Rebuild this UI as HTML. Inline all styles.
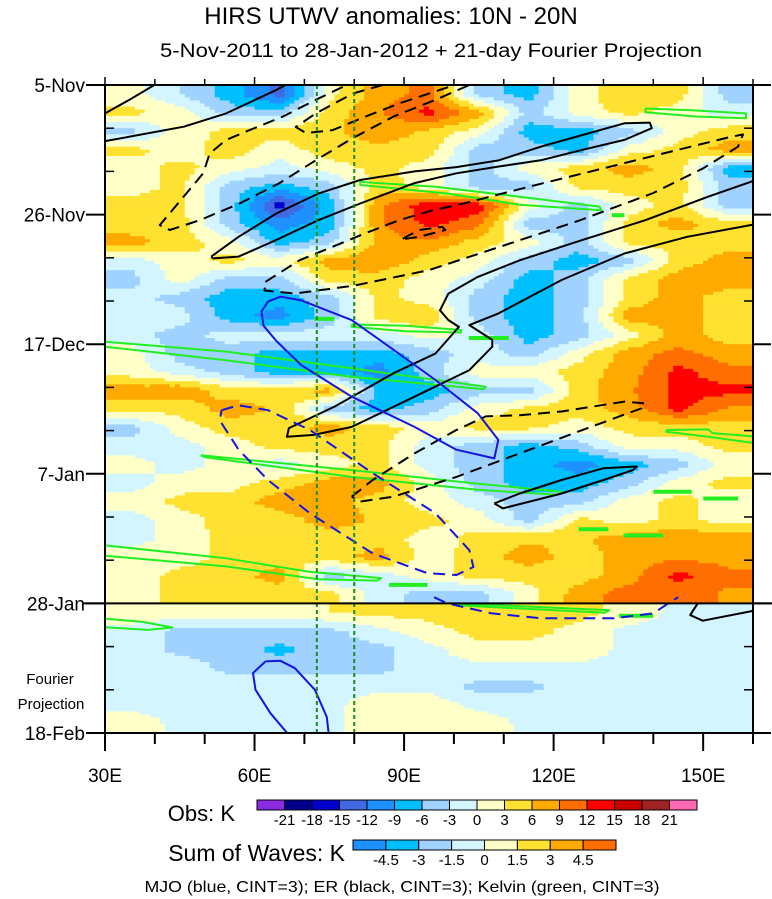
<!DOCTYPE html>
<html>
<head>
<meta charset="utf-8">
<style>
  html, body { margin: 0; padding: 0; background: #fff; }
  svg { display: block; font-family: "Liberation Sans", "DejaVu Sans", sans-serif; }
</style>
</head>
<body>
<svg id="chart" width="772" height="899" viewBox="0 0 772 899" xmlns="http://www.w3.org/2000/svg">
  <defs>
    <clipPath id="plotClip"><rect x="105" y="85" width="648" height="648"/></clipPath>
  </defs>
  <text x="391" y="24" font-size="24" text-anchor="middle">HIRS UTWV anomalies: 10N - 20N</text>
  <text x="431" y="57" font-size="19" text-anchor="middle" textLength="542" lengthAdjust="spacingAndGlyphs">5-Nov-2011 to 28-Jan-2012 + 21-day Fourier Projection</text>
  <g id="heat" clip-path="url(#plotClip)"></g>
  <g id="lines" clip-path="url(#plotClip)"></g>
  <g id="axes"></g>
  <g id="legend"></g>
  <text x="402" y="892" font-size="16" text-anchor="middle" textLength="515" lengthAdjust="spacingAndGlyphs">MJO (blue, CINT=3); ER (black, CINT=3); Kelvin (green, CINT=3)</text>
</svg>
<script>
// ---- data: observed anomalies (K), columns at 35E..155E (10-degree bins), rows every 3 days from 5-Nov ----
const colLons = [35,45,55,65,75,85,95,105,115,125,135,145,155];
const obsRows = [
[1.5,-3,-7.5,-13.5,2,7.5,10,-4.5,-7.5,1.5,5.5,4.5,-4.5],
[4,1.5,-4.5,-4.5,4.5,8.5,13,7.5,-4.5,1.5,4,1.5,-1.5],
[-4.5,1.5,4,4,5.5,7.5,5.5,1.5,-7.5,-7.5,-4.5,1.5,4.5],
[4,1.5,4.5,1.5,4.5,5.5,4.5,-4.5,-4.5,-7.5,1.5,4,7.5],
[1.5,4,1.5,-1.5,1.5,4,1.5,-4.5,1.5,4.5,7.5,4.5,-7.5],
[1.5,4,-4.5,-7.5,-4.5,4.5,1.5,-4.5,-4.5,4,4.5,4.5,-4.5],
[4.5,4,-4.5,-16.5,-7.5,8.5,14,14,1.5,-4.5,1.5,4,-4.5],
[4,4.5,-4.5,-10.5,-7.5,8.5,13,10,-4.5,-4.5,4,7.5,4],
[7.5,4.5,1.5,-7.5,-4.5,7.5,8.5,4.5,1.5,-4.5,4,4,4.5],
[-1.5,1.5,4,1.5,7.5,8.5,4.5,1.5,-4.5,-7.5,-4.5,4.5,7.5],
[-4.5,1.5,-4.5,-4.5,4.5,4.5,1.5,-1.5,-7.5,-4.5,4,7.5,7.5],
[-1.5,-4.5,-7.5,-7.5,-4.5,4,1.5,-4.5,-7.5,-4.5,4,7.5,4.5],
[-1.5,-1.5,-7.5,-10.5,-4.5,4,5.5,-4.5,-7.5,-4.5,7.5,7.5,4.5],
[-1.5,-4.5,-1.5,-1.5,-1.5,-1.5,1.5,-1.5,-7.5,-4.5,1.5,7.5,4.5],
[1.5,-4.5,-4.5,-7.5,-7.5,-7.5,-4.5,-1.5,-4.5,1.5,7.5,10,7.5],
[1.5,-1.5,-4.5,-7.5,-7.5,-10.5,-4.5,1.5,1.5,4.5,7.5,13,10],
[7.5,8.5,4.5,4.5,7.5,-7.5,-7.5,-4.5,-4.5,4.5,8.5,13,13],
[4.5,4,7.5,5.5,-4.5,-7.5,-4.5,1.5,4,4.5,7.5,13,8.5],
[-4.5,1.5,4.5,4.5,7.5,4.5,1.5,4,4,1.5,4,4.5,4.5],
[-1.5,-1.5,1.5,4,4.5,4,-1.5,-4.5,-7.5,-4.5,1.5,1.5,4],
[1.5,-1.5,1.5,-1.5,1.5,4,-1.5,-4.5,-7.5,-10.5,-7.5,-4.5,1.5],
[-1.5,1.5,1.5,4.5,7.5,7.5,1.5,-4.5,-7.5,-7.5,-4.5,1.5,4],
[1.5,4,4.5,7.5,7.5,4.5,1.5,-1.5,-4.5,-4.5,1.5,4,1.5],
[-1.5,1.5,4.5,4.5,7.5,5.5,4,1.5,-4.5,4,1.5,4,1.5],
[-1.5,1.5,4,4.5,4.5,4.5,1.5,4,5.5,5.5,7.5,8.5,7.5],
[1.5,1.5,4,4.5,4.5,7.5,1.5,4.5,7.5,4.5,7.5,8.5,7.5],
[1.5,4,4.5,7.5,-4.5,-1.5,1.5,4.5,4.5,4.5,7.5,13,10],
[1.5,4,4.5,4.5,4,-1.5,-4.5,-4.5,1.5,7.5,10.5,10.5,8.5]
];
// ---- data: Fourier projection (sum of waves, K), rows every 3 days from 28-Jan ----
const fourierRows = [
[1,1,1,1,1.5,2,2,2,2,2,1,-0.5,-0.5],
[-0.5,-2,-2,-2,-2,-0.5,1,2,2,1,-0.5,-0.5,-0.5],
[-0.5,-2,-2,-3.5,-2,-2,-0.5,1,1,1,-0.5,-0.5,-0.5],
[-0.5,-0.5,-2,-2,-2,-2,-0.5,-0.5,-0.5,-0.5,-0.5,-0.5,-0.5],
[-0.5,-0.5,-0.5,-0.5,-0.5,-0.5,-0.5,-2,-2,-0.5,-0.5,-0.5,-0.5],
[-0.5,-0.5,-0.5,-0.5,-0.5,1,1,-0.5,-0.5,-0.5,-0.5,-0.5,-0.5],
[1,-0.5,-0.5,-0.5,-0.5,1,1,1,-0.5,-0.5,-0.5,-0.5,-0.5]
];
const obsLevels = [-21,-18,-15,-12,-9,-6,-3,0,3,6,9,12,15,18,21];
const obsLevelLabels = ["-21","-18","-15","-12","-9","-6","-3","0","3","6","9","12","15","18","21"];
const obsColors = ["#8A2BE2","#00008B","#0000CD","#4169E1","#1E90FF","#00BFFF","#A0D2FF","#D2F5FF","#FFFFC8","#FFE132","#FFAA00","#FF6E00","#FF0000","#C80000","#A02323","#FF69B4"];
const waveLevels = [-4.5,-3,-1.5,0,1.5,3,4.5];
const waveLevelLabels = ["-4.5","-3","-1.5","0","1.5","3","4.5"];
const waveColors = ["#1E90FF","#00BFFF","#A0D2FF","#D2F5FF","#FFFFC8","#FFE132","#FFAA00","#FF6E00"];
const dateTicks = [0,21,42,63,84,105];
const dateLabels = ["5-Nov","26-Nov","17-Dec","7-Jan","28-Jan","18-Feb"];
const lonTicks = [30,60,90,120,150];
const lonLabels = ["30E","60E","90E","120E","150E"];
const refLons = [72.5,80];
// ---- contours: [lon, day] ----
const erSolid1 = [[30,4.6],[34.9,2.4],[39.9,0],[41,-1]];
const erSolid2 = [[30,9.1],[45.8,6.75],[54.3,4.6],[64.4,0.8],[66.9,-0.3]];
const erSolid3 = [[51.3,27.8],[56.8,24.6],[64.4,20.8],[72.8,17.6],[81.2,15.4],[92.1,14],[100.5,13.3],[109,12.2],[117.4,10],[125.8,8.1],[134.2,6.2],[139.3,6.1],[139.7,7],[134.2,8.9],[125.8,10.5],[117.4,12.2],[109,13.2],[100.5,14.3],[92.1,15.9],[81.2,19.2],[72.8,21.9],[64.4,25.1],[56.8,27.8],[51.7,28.1],[51.3,27.8]];
const erSolid4 = [[161,15.2],[159.5,15.7],[151,18.1],[138.4,21.9],[125.8,25.1],[113.2,28.4],[104.8,31.1],[98.9,33.8],[97.2,36.5],[98.9,38.1],[101,39.2],[96.3,43.5],[87.9,46.7],[76.1,52.1],[66.9,55.6],[66.5,57],[71.9,56.7],[79.5,55.4],[92.1,50.5],[103.1,46.2],[107.7,42.4],[107.7,41.3],[103.1,38.9],[109,37],[121.6,31.6],[134.2,27.3],[146.8,24.6],[159.5,22.7],[161,22.5]];
const erSolid5 = [[108.1,67.8],[113.2,66.2],[121.6,64],[130,62.1],[136.7,61.8],[135.9,62.4],[130,64],[121.6,66.2],[109.8,68.6],[108.1,67.8]];
const erSolid6 = [[148.9,84],[147.4,85.9],[149.9,86.8],[159.5,85.3],[161,85]];
const erDash1 = [[77.7,0.3],[72.3,2.4],[65.7,5.1],[59,7.3],[54.3,8.9],[51,11.1],[49.7,14.3],[46.3,17.6],[41,22.7],[43,23.5],[49,21.9],[57,19.2],[65,15.9],[72.3,12.2],[79.7,8.6],[87.9,5.1],[96.3,2.4],[103.1,0],[105,-1]];
const erDash2 = [[85.7,0],[79.7,1.4],[72.3,4.6],[68.3,6.8],[70.3,7.8],[75.7,7.3],[82.3,5.1],[89,3],[99,0.3],[102,-1]];
const erDash3 = [[62.2,31.9],[69,28.4],[75.7,26.2],[82.3,24],[89,21.9],[95.7,20.3],[101,19.4],[115,16.5],[130,13.5],[145,10.5],[155,8.5],[158,8],[157,10],[150,13.5],[140,17.5],[125,22],[110,26],[95,30],[80,32.5],[68,33.8],[62,33.3],[62.2,31.9]];
const erDash4 = [[89.7,24.9],[93,23.5],[97.7,23],[98.3,23.5],[93,24.6],[89.7,25]];
const erDash5 = [[79.5,66.7],[83.7,64],[92.1,59.7],[100.5,55.9],[106.4,53.7],[113.2,53.5],[121.6,52.9],[134.2,51.3],[138.4,51.6],[137.6,52.4],[125.8,55.9],[113.2,59.7],[100.5,63.5],[87.9,66.7],[81.2,67.5],[79.5,66.7]];
const mjoSolid1 = [[62.7,35.1],[65.2,34.3],[69.4,34.9],[79.5,38.1],[87.9,42.9],[96.3,47.8],[104.8,53.2],[108.9,57.5],[108.1,60.5],[100.5,59.1],[92.1,55.4],[79.5,50.5],[69.4,45.4],[64.4,41.5],[61.8,39],[61.4,36.7],[62.7,35.1]];
const mjoSolid2 = [[62.2,93.4],[65.2,93.3],[68.1,94.5],[72.1,98],[74.5,102.4],[75,106],[67.6,106],[63.2,101.8],[60.2,98],[59.7,95.3],[62.2,93.4]];
const mjoDash1 = [[53.4,52.7],[56.8,51.9],[62.7,52.7],[71.1,55.9],[83.7,62.9],[96.3,69.4],[103.1,75.4],[103.9,78.1],[100.5,79.4],[94.7,79.1],[83.7,75.9],[71.1,69.4],[62.7,64],[56.8,59.1],[53,54.3],[53.4,52.7]];
const mjoDash2 = [[96,83],[98.7,84],[107.5,85.6],[117.4,86.4],[132.2,86.4],[140,85.6],[143,84],[145,83]];
const kelvin1 = [[138.4,3.8],[147.7,4.1],[158.6,4.6],[158.6,5.4],[148.5,5.1],[138.4,4.4],[138.4,3.8]];
const kelvin2 = [[81.2,15.7],[96.3,16.5],[113.2,18.1],[129.2,19.7],[129.6,20.3],[113.2,19.4],[98.9,17.6],[81.2,16.2],[81.2,15.7]];
const kelvin3 = [[79.5,38.8],[90.4,39],[101.4,39.7],[101.4,40.1],[90.4,39.9],[79.5,39.2],[79.5,38.8]];
const kelvin4 = [[29,41],[30,41.6],[54.3,43.2],[79.5,45.9],[106.4,48.9],[106,49.3],[79.5,47.3],[54.3,44.6],[30,42.4],[29,42.4]];
const kelvin5 = [[49.2,60],[79.5,62.4],[104.8,64.6],[121.6,65.9],[120.8,66.4],[104.8,65.6],[79.5,63.5],[50,60.3],[49.2,60]];
const kelvin6 = [[142.6,55.9],[151,55.8],[151.9,56.4],[161,57],[161,58.1],[151,57],[142.6,56.2],[142.6,55.9]];
const kelvin7 = [[29,74.5],[54.3,76.7],[71.1,78.9],[74.5,79.1],[85.4,79.9],[84.6,80.3],[72.8,80.1],[54.3,78],[29,76.2]];
const kelvin8 = [[100.6,84],[131.2,85.1],[130.2,85.5],[122.3,85.2],[100.6,84.3]];
const kelvin9 = [[29,86.4],[37.6,87],[43.5,87.9],[38.6,88.3],[29,87.8]];
const kelvinBits = [[[131.7,21.1],[134.2,21.1]],[[72,37.9],[76,37.9]],[[103,41],[111,41]],[[140,65.9],[147.7,65.9]],[[150,67],[157,67]],[[125,72],[131,72]],[[134,73],[142,73]],[[87,81],[94.7,81]],[[133.1,86],[140,86]]];

// ---- axis functions ----
const PX0 = 105, PX1 = 753, PY0 = 85, PY1 = 733;
function X(lon){ return PX0 + (lon - 30) * (PX1 - PX0) / 130; }
function Y(day){ return PY0 + day * (PY1 - PY0) / 105; }
const NS = "http://www.w3.org/2000/svg";
function mk(tag, attrs, parent){ const e = document.createElementNS(NS, tag); for (const k in attrs) e.setAttribute(k, attrs[k]); parent.appendChild(e); return e; }
function colorFor(v, levels, colors){ let i = 0; while (i < levels.length && v >= levels[i]) i++; return colors[i]; }
function interp(rows, lon, rowPos){
  let ci = (lon - colLons[0]) / 10; ci = Math.max(0, Math.min(colLons.length - 1, ci));
  let ri = Math.max(0, Math.min(rows.length - 1, rowPos));
  const c0 = Math.floor(ci), c1 = Math.min(colLons.length - 1, c0 + 1), fc = ci - c0;
  const r0 = Math.floor(ri), r1 = Math.min(rows.length - 1, r0 + 1), fr = ri - r0;
  const a = rows[r0][c0] * (1 - fc) + rows[r0][c1] * fc;
  const b = rows[r1][c0] * (1 - fc) + rows[r1][c1] * fc;
  return a * (1 - fr) + b * fr;
}
const heat = document.getElementById('heat');
function drawField(rows, day0, nDays, levels, colors){
  const dStep = 0.5, lStep = 1;
  for (let d = 0; d < nDays; d += dStep) {
    const rowPos = (d + dStep / 2 - 1.5) / 3;
    let runStart = 30, runColor = null;
    for (let lon = 30; lon <= 160; lon += lStep) {
      const c = lon < 160 ? colorFor(interp(rows, lon + lStep / 2, rowPos), levels, colors) : null;
      if (c !== runColor) {
        if (runColor !== null) {
          const r = mk('rect', { x: X(runStart).toFixed(2), y: Y(day0 + d).toFixed(2), width: (X(lon) - X(runStart) + 0.4).toFixed(2), height: (Y(day0 + d + dStep) - Y(day0 + d) + 0.4).toFixed(2), fill: runColor }, heat);
          
          
        }
        runStart = lon; runColor = c;
      }
    }
  }
}
drawField(obsRows, 0, 84, obsLevels, obsColors);
drawField(fourierRows, 84, 21, waveLevels, waveColors);

const lines = document.getElementById('lines');
function drawLine(pts, stroke, dash, name, width){
  const p = mk('polyline', { points: pts.map(q => X(q[0]).toFixed(1) + ',' + Y(q[1]).toFixed(1)).join(' '), fill: 'none', stroke: stroke, 'stroke-width': width || 2, 'stroke-linejoin': 'round' }, lines);
  if (dash) p.setAttribute('stroke-dasharray', dash);
  
  
}
[kelvin1,kelvin2,kelvin3,kelvin4,kelvin5,kelvin6,kelvin7,kelvin8,kelvin9].forEach(k => drawLine(k, '#22EE22', null, 'kelvin-contour'));
kelvinBits.forEach(k => drawLine(k, '#22EE22', null, 'kelvin-contour', 4));
[erSolid1,erSolid2,erSolid3,erSolid4,erSolid5,erSolid6].forEach(k => drawLine(k, '#000', null, 'er-positive-contour'));
[erDash1,erDash2,erDash3,erDash4,erDash5].forEach(k => drawLine(k, '#000', '12,7', 'er-negative-contour'));
[mjoSolid1,mjoSolid2].forEach(k => drawLine(k, '#1515E0', null, 'mjo-positive-contour'));
[mjoDash1,mjoDash2].forEach(k => drawLine(k, '#1515E0', '12,7', 'mjo-negative-contour'));
refLons.forEach(l => {
  const v = mk('line', { x1: X(l), x2: X(l), y1: PY0, y2: PY1, stroke: '#1E8A1E', 'stroke-width': 2, 'stroke-dasharray': '4,3' }, lines);
  
  
});

// ---- axes ----
const axes = document.getElementById('axes');
const frame = mk('rect', { x: PX0, y: PY0, width: PX1 - PX0, height: PY1 - PY0, fill: 'none', stroke: '#000', 'stroke-width': 2 }, axes);


const sep = mk('line', { x1: 82, x2: 772, y1: Y(84), y2: Y(84), stroke: '#000', 'stroke-width': 2 }, axes);


dateTicks.forEach((d, i) => {
  const y = Y(d);
  const t1 = mk('line', { x1: 86, x2: PX0, y1: y, y2: y, stroke: '#000', 'stroke-width': 2 }, axes);
  
  
  const t2 = mk('line', { x1: PX1, x2: 771, y1: y, y2: y, stroke: '#000', 'stroke-width': 2 }, axes);
  
  
  const lb = mk('text', { x: 85, y: y + 7, 'font-size': 19, 'text-anchor': 'end' }, axes);
  lb.textContent = dateLabels[i];
  
  
});
for (let d = 7; d < 105; d += 7) {
  if (d % 21 === 0) continue;
  const y = Y(d);
  const m1 = mk('line', { x1: PX0, x2: PX0 + 9, y1: y, y2: y, stroke: '#000', 'stroke-width': 1.5 }, axes);
  
  
  const m2 = mk('line', { x1: PX1 - 9, x2: PX1, y1: y, y2: y, stroke: '#000', 'stroke-width': 1.5 }, axes);
  
  
}
for (let l = 30; l <= 160; l += 10) {
  const major = (l - 30) % 30 === 0;
  const b = mk('line', { x1: X(l), x2: X(l), y1: PY1, y2: PY1 + (major ? 18 : 11), stroke: '#000', 'stroke-width': 2 }, axes);
  
  
  const t = mk('line', { x1: X(l), x2: X(l), y1: PY0 - (major ? 8 : 6), y2: PY0, stroke: '#000', 'stroke-width': 1.5 }, axes);
  
  
}
lonTicks.forEach((l, i) => {
  const lb = mk('text', { x: X(l), y: 782, 'font-size': 19, 'text-anchor': 'middle' }, axes);
  lb.textContent = lonLabels[i];
  
  
});
const fp1 = mk('text', { x: 50, y: 684, 'font-size': 15, 'text-anchor': 'middle' }, axes);
fp1.textContent = 'Fourier';


const fp2 = mk('text', { x: 51, y: 709, 'font-size': 15, 'text-anchor': 'middle' }, axes);
fp2.textContent = 'Projection';



// ---- colorbars ----
const legend = document.getElementById('legend');
function colorbar(x0, y0, w, h, colors, labels, title, titleX, titleY, fs, tfs){
  const bw = w / colors.length;
  colors.forEach((c, i) => {
    const r = mk('rect', { x: x0 + i * bw, y: y0, width: bw, height: h, fill: c, stroke: '#000', 'stroke-width': 1 }, legend);
    
    
  });
  labels.forEach((t, i) => {
    const lb = mk('text', { x: x0 + (i + 1) * bw, y: y0 + h + 15, 'font-size': fs, 'text-anchor': 'middle' }, legend);
    lb.textContent = t;
    
    
  });
  const tt = mk('text', { x: titleX, y: titleY, 'font-size': tfs, 'text-anchor': 'end' }, legend);
  tt.textContent = title;
  
  
}
colorbar(257, 800, 440, 10, obsColors, obsLevelLabels, 'Obs: K', 235, 821, 15, 22);
colorbar(353, 840, 263, 10, waveColors, waveLevelLabels, 'Sum of Waves: K', 345, 861, 15, 23);
</script>
</body>
</html>
